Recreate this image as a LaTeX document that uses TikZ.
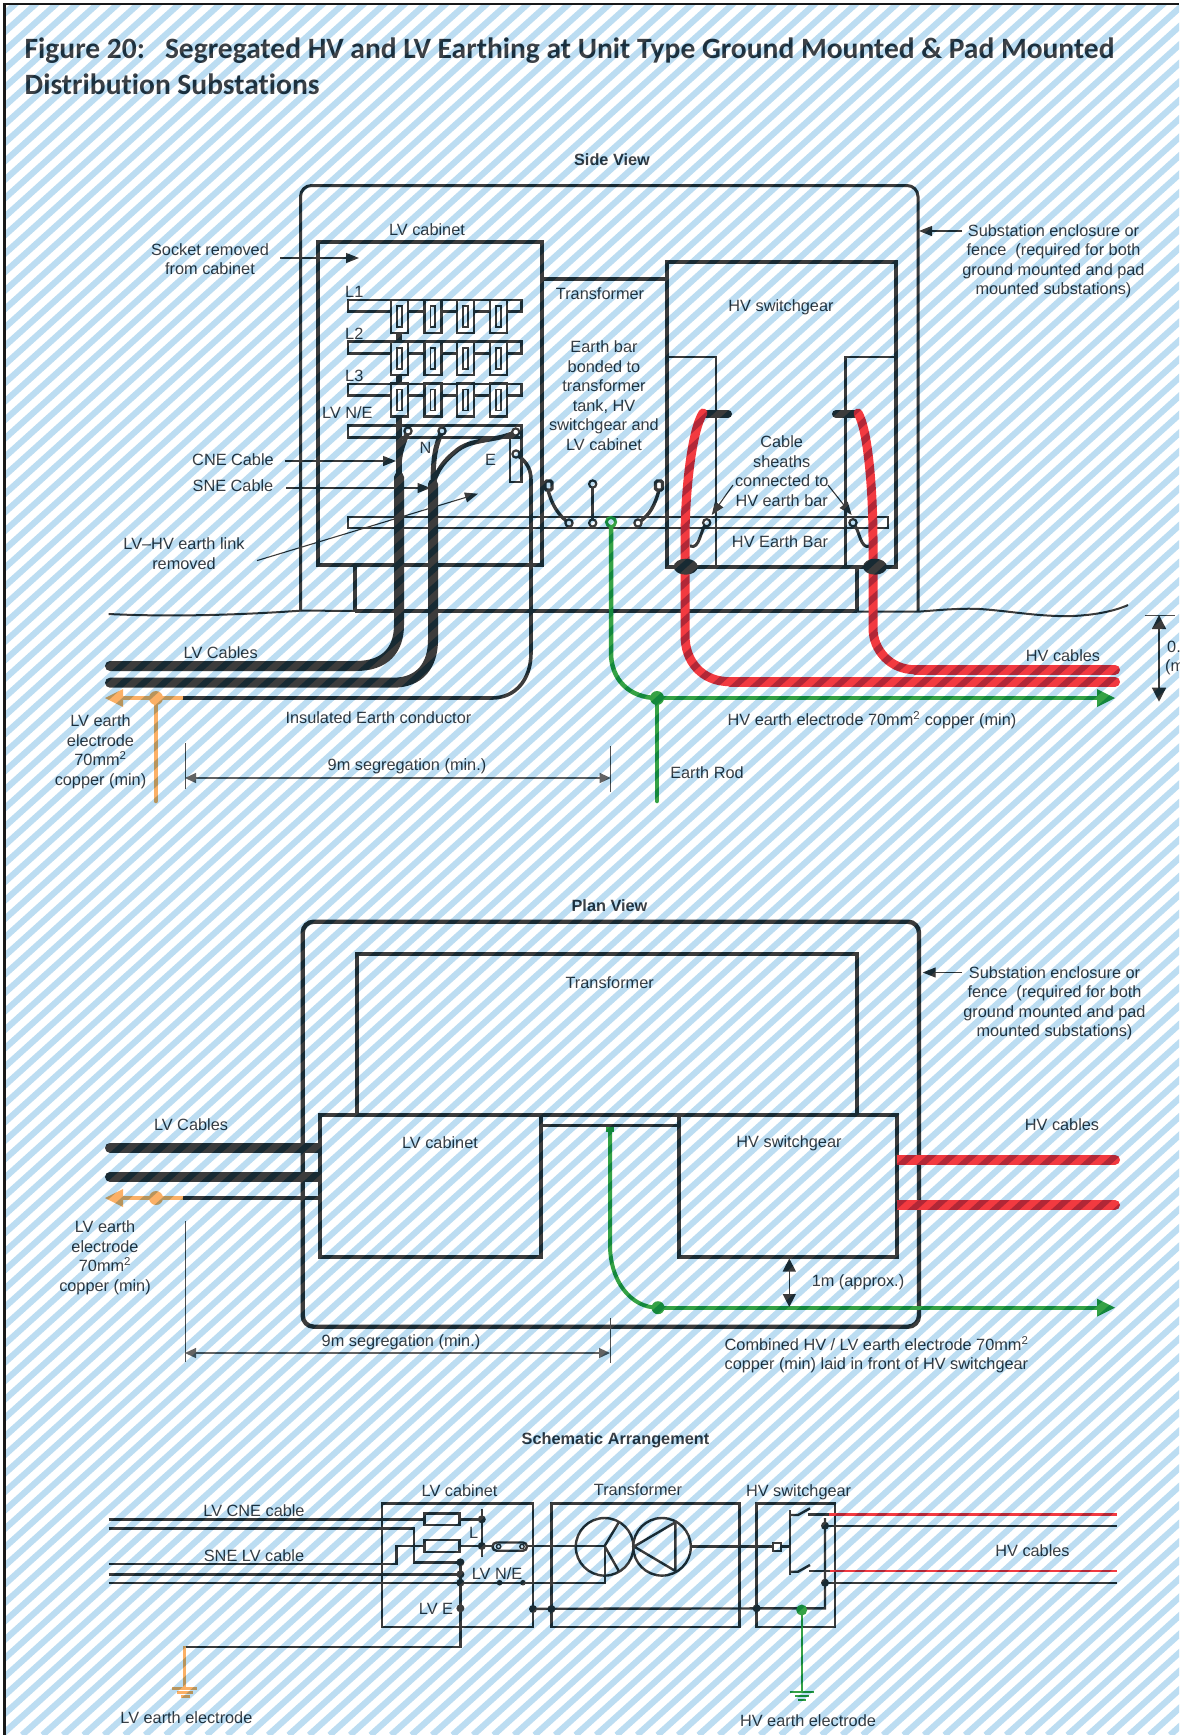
\documentclass[tikz,border=0pt]{standalone}
\usepackage{fontspec}
\setmainfont{Liberation Sans}
\newfontfamily\titlefont[Ligatures={NoCommon}]{Carlito}
\usetikzlibrary{arrows.meta}
\definecolor{ink}{HTML}{3C3C3C}
\definecolor{txt}{HTML}{3E4247}
\definecolor{redc}{HTML}{F23A40}
\definecolor{grn}{HTML}{36A245}
\definecolor{org}{HTML}{FBB066}
\definecolor{stripe}{HTML}{C2DEF2}
\definecolor{burn}{HTML}{E6F2F8}
\tikzset{
 lbl/.style={inner sep=0pt,align=center,text=txt,yshift=-1pt,font=\fontsize{16.3}{19.5}\selectfont},
 headl/.style={lbl,font=\fontsize{16.3}{19.5}\selectfont\bfseries},
 titlel/.style={inner sep=0pt,align=left,anchor=base west,text=txt,font=\fontsize{29.5}{35}\selectfont\titlefont\bfseries},
 wall/.style={draw=ink,line width=4pt},
 thinwall/.style={draw=ink,line width=2.6pt},
 wire/.style={draw=ink,line width=3pt},
 sch/.style={draw=ink,line width=2.4pt},
 cable/.style={draw=ink,line width=10pt,line cap=round},
 rcable/.style={draw=redc,line cap=round},
 leader/.style={draw=ink,line width=1.1pt,-{Triangle[length=13pt,width=10pt]}},
 dimline/.style={draw=ink!80,line width=1.2pt,{Triangle[length=11pt,width=10pt]}-{Triangle[length=11pt,width=10pt]}},
 tick/.style={draw=ink!90,line width=1pt},
 term/.style={draw=ink,fill=white,line width=2.2pt},
 gline/.style={draw=grn,line width=4.5pt},
 oline/.style={draw=org,line width=4.5pt},
}
\begin{document}
\begin{tikzpicture}[x=1pt,y=-1pt]
\useasboundingbox (0,0) rectangle (1179,1735);
\clip (0,0) rectangle (1179,1735);
\fill[white] (0,0) rectangle (1179,1735);

% ===== title
\node[titlel] (title1) at (24.5,58) {Figure 20:\ \ \ Segregated HV and LV Earthing at Unit Type Ground Mounted \& Pad Mounted};
\node[titlel] (title2) at (24.5,94) {Distribution Substations};

% ===== SIDE VIEW
\node[headl] (sideh) at (612,159) {Side View};
% ground
\draw[draw=ink,line width=2pt] (108.6,614) .. controls (170,617) and (240,615) .. (300,610.7) -- (918,611.7)
  .. controls (940,610) and (960,608) .. (980,609) .. controls (1010,611) and (1040,617) .. (1073,616) .. controls (1095,615) and (1115,611) .. (1128,605);
\draw[wall] (355,611) -- (857,611);
% enclosure
\draw[draw=ink,line width=3pt,rounded corners=11pt] (300.5,611) -- (300.5,185.5) -- (918,185.5) -- (918,611);
% cabinets
\draw[wall] (318,241.7) rectangle (542,565);
\draw[wall] (542,279) -- (667,279);
\draw[wall] (667,262) rectangle (896,566.7);
\draw[wall] (355,565) -- (355,611);
\draw[wall] (857,566.7) -- (857,611);
\draw[thinwall] (667,357) -- (716,357) -- (716,566.7);
\draw[thinwall] (896,357) -- (845.7,357) -- (845.7,566.7);
% bars
\draw[thinwall] (348,517) rectangle (888,528);
\foreach \by in {300,341.7,384,425.7}{\draw[thinwall] (348,\by) rectangle (521.7,\by+11.7);}
\draw[thinwall] (510,437) -- (510,482) -- (521.7,482) -- (521.7,430);
% upper thin cables
\draw[draw=ink,line width=6pt] (399,333) -- (399,476);
\draw[draw=ink,line width=5pt] (408,431) .. controls (403,445) and (399,452) .. (399,470);
\draw[draw=ink,line width=5pt] (442,431) .. controls (436,445) and (433,455) .. (433,485);
\draw[draw=ink,line width=4.5pt] (516,432) .. controls (495,442) and (470,438) .. (455,452) .. controls (445,460) and (437,470) .. (434,482);
% fuses
\foreach \fy in {300,341.7,383.5}{
  \foreach \fx in {391,424.5,457,490}{
    \draw[draw=ink,line width=2.2pt,fill=white] (\fx,\fy) rectangle (\fx+17,\fy+33);
    \draw[draw=ink,line width=1.6pt] (\fx+6,\fy+6) rectangle (\fx+10.7,\fy+27);
  }
}
% LV cables
\draw[cable] (110,666) -- (356,666) .. controls (385,666) and (399,650) .. (399,625) -- (399,477);
\draw[cable] (110,682.7) -- (393,682.7) .. controls (420,682.7) and (433,665) .. (433,640) -- (433,484);
% insulated earth
\draw[draw=ink,line width=3.6pt] (516,454) .. controls (524,460) and (531,466) .. (531,480) -- (531,653) .. controls (531,680) and (515,698) .. (492,698) -- (183,698);
% orange electrode
\draw[oline] (183,698) -- (120,698);
\path[fill=org] (105,698) -- (123,689) -- (123,707) -- cycle;
\fill[org] (156,698) circle (7);
\draw[oline,line cap=round] (156,698) -- (156,801);
% bonds
\draw[draw=ink,line width=3.4pt] (548,490) .. controls (552,505) and (558,515) .. (569,523);
\draw[draw=ink,line width=3.4pt] (592.7,488) -- (592.7,523);
\draw[draw=ink,line width=3.4pt] (659,490) .. controls (655,505) and (650,515) .. (638,523);
\draw[draw=ink,line width=3.2pt,fill=white,rounded corners=1.5pt] (545,481) rectangle (552,490);
\draw[draw=ink,line width=3.2pt,fill=white,rounded corners=1.5pt] (655.5,481) rectangle (662.5,490);
\draw[term] (592.7,484) circle (3.6);
% sheath connections
\draw[draw=ink,line width=3pt] (706.7,522.7) .. controls (700,530) and (700,550) .. (690,546);
\draw[draw=ink,line width=3pt] (853,522.7) .. controls (860,530) and (860,550) .. (870,546);
\foreach \tx/\ty in {408/431,442/431,515.7/432,516/454,569/523,592.7/523,638/523,706.7/522.7,853/522.7}{\draw[term] (\tx,\ty) circle (3.6);}
% black stubs
\draw[draw=ink,line width=8pt,line cap=round] (705,414) -- (728,414);
\draw[draw=ink,line width=8pt,line cap=round] (836,414) -- (858,414);
% red cables
\draw[rcable,line width=9pt] (703,413) .. controls (692,430) and (685,490) .. (685,540) -- (685,635) .. controls (685,662) and (702,681.7) .. (730,681.7);
\draw[rcable,line width=10pt] (730,681.7) -- (1115,681.7);
\draw[rcable,line width=9pt] (858,413) .. controls (868,430) and (873,490) .. (873,540) -- (873,628) .. controls (873,650) and (890,669.7) .. (915,669.7);
\draw[rcable,line width=10pt] (915,669.7) -- (1115,669.7);
\fill[ink] (685.7,566.7) ellipse (12 and 8);
\fill[ink] (875,566.7) ellipse (12 and 8);
% green electrode
\draw[gline] (611,527) -- (611,653) .. controls (611,680) and (630,698) .. (657,698);
\draw[gline] (657,698) -- (1100,698);
\path[fill=grn] (1115,698) -- (1097,689) -- (1097,707) -- cycle;
\fill[grn] (657,698) circle (7);
\draw[gline,line cap=round] (657,698) -- (657,801);
\draw[draw=grn,fill=white,line width=3pt] (611,522) circle (4.6);
% leaders
\node[lbl] (socket) at (210,258) {Socket removed\\from cabinet};
\coordinate (socketA) at (280,258); \coordinate (socketB) at (359,258);
\draw[leader] (socketA) -- (socketB);
\node[lbl] (lvcab) at (427,229) {LV cabinet};
\node[lbl,anchor=west] (l1) at (345,291) {L1};
\node[lbl,anchor=west] (l2) at (345,333) {L2};
\node[lbl,anchor=west] (l3) at (345,375) {L3};
\node[lbl,anchor=west] (lvne) at (322,412) {LV N/E};
\node[lbl] (cne) at (233,459) {CNE Cable};
\coordinate (cneA) at (285,461); \coordinate (cneB) at (396,461);
\draw[leader] (cneA) -- (cneB);
\node[lbl] (sne) at (233,485) {SNE Cable};
\coordinate (sneA) at (286,488); \coordinate (sneB) at (430.5,488);
\draw[leader] (sneA) -- (sneB);
\node[lbl] (link) at (184,552.5) {LV--HV earth link\\removed};
\coordinate (linkA) at (257,560.6); \coordinate (linkB) at (478,493.7);
\draw[leader] (linkA) -- (linkB);
\node[lbl] (nlab) at (425.5,446.7) {N};
\node[lbl] (elab) at (490.5,459) {E};
\node[lbl] (trl) at (600,293) {Transformer};
\node[lbl] (ebond) at (604,394.5) {Earth bar\\bonded to\\transformer\\tank, HV\\switchgear and\\LV cabinet};
\node[lbl] (hvsw) at (781,306.7) {HV switchgear};
\node[lbl] (sheaths) at (781.7,470) {Cable\\sheaths\\connected to\\HV earth bar};
\coordinate (shA) at (733,485); \coordinate (shB) at (711.7,515);
\coordinate (shC) at (828,485); \coordinate (shD) at (851.7,515);
\draw[leader] (shA) -- (shB);
\draw[leader] (shC) -- (shD);
\node[lbl] (hvbar) at (780,540.7) {HV Earth Bar};
\node[lbl] (encl) at (1053.5,260.5) {Substation enclosure or\\fence\ \ (required for both\\ground mounted and pad\\mounted substations)};
\coordinate (enclA) at (962,231); \coordinate (enclB) at (919,231);
\draw[leader] (enclA) -- (enclB);
\node[lbl] (lvc) at (220.7,651.7) {LV Cables};
\node[lbl] (ins) at (378.4,716.7) {Insulated Earth conductor};
\node[lbl] (lve) at (100.5,751) {LV earth\\electrode\\70mm\textsuperscript{2}\\copper (min)};
\node[lbl] (hvc) at (1063,655) {HV cables};
\node[lbl] (hve) at (872,719) {HV earth electrode 70mm\textsuperscript{2} copper (min)};
\node[lbl] (rod) at (707,772) {Earth Rod};
\node[lbl] (seg) at (407,765.7) {9m segregation (min.)};
\coordinate (segA) at (185,778); \coordinate (segB) at (610.7,778);
\draw[tick] (185,743) -- (185,789);
\draw[tick] (610.7,746) -- (610.7,792);
\draw[dimline] (segA) -- (segB);
\draw[tick] (1145,615) -- (1175,615);
\coordinate (depA) at (1159,615); \coordinate (depB) at (1159,701.7);
\draw[draw=ink,line width=1.3pt,{Triangle[length=14pt,width=14pt]}-{Triangle[length=14pt,width=14pt]}] (depA) -- (depB);
\node[lbl,anchor=west] (dep1) at (1167,646) {0.};
\node[lbl,anchor=west] (dep2) at (1165,666) {(m};

% ===== PLAN VIEW
\node[headl] (planh) at (609.5,904.7) {Plan View};
\draw[draw=ink,line width=4.4pt,rounded corners=11pt] (302.7,921.7) rectangle (919,1326.7);
\draw[wall] (356.5,1115) -- (356.5,953.8) -- (857.3,953.8) -- (857.3,1115);
\draw[wall] (320,1115) rectangle (541,1256.7);
\draw[wall] (679,1115) rectangle (896.7,1256.7);
\draw[wall] (541,1115) -- (679,1115);
\draw[draw=ink,line width=3pt] (541,1125.7) -- (679,1125.7);
\draw[cable] (110,1147.7) -- (300,1147.7);
\draw[cable] (110,1176.7) -- (300,1176.7);
\draw[draw=ink,line width=10pt] (290,1147.7) -- (320,1147.7);
\draw[draw=ink,line width=10pt] (290,1176.7) -- (320,1176.7);
\draw[draw=ink,line width=3.6pt] (183,1198) -- (320,1198);
\draw[oline] (183,1198) -- (120,1198);
\path[fill=org] (105,1198) -- (123,1189) -- (123,1207) -- cycle;
\fill[org] (156,1198) circle (7);
\draw[rcable,line width=10pt] (915,1159.6) -- (1115,1159.6);
\draw[rcable,line width=10pt] (915,1205) -- (1115,1205);
\draw[draw=redc,line width=10pt] (897,1159.6) -- (920,1159.6) (897,1205) -- (920,1205);
\fill[grn] (606,1127) rectangle (614,1132);
\draw[draw=grn,line width=4pt] (610,1130) -- (610,1245) .. controls (610,1280) and (630,1307.7) .. (658,1307.7);
\draw[draw=grn,line width=4pt] (658,1307.7) -- (1100,1307.7);
\path[fill=grn] (1115,1307.7) -- (1097,1298.7) -- (1097,1316.7) -- cycle;
\fill[grn] (658,1307.7) circle (6.5);
\coordinate (oneA) at (789.3,1258.5); \coordinate (oneB) at (789.3,1307);
\draw[draw=ink,line width=1.3pt,{Triangle[length=13pt,width=13pt]}-{Triangle[length=13pt,width=13pt]}] (oneA) -- (oneB);
\node[lbl] (onem) at (858,1281) {1m (approx.)};
\node[lbl] (trp) at (609.7,982) {Transformer};
\node[lbl] (lvcp) at (440,1142) {LV cabinet};
\node[lbl] (hvsp) at (789,1142) {HV switchgear};
\node[lbl] (lvcap) at (191,1124) {LV Cables};
\node[lbl] (hvcap) at (1062,1124) {HV cables};
\node[lbl] (lvep) at (105,1257) {LV earth\\electrode\\70mm\textsuperscript{2}\\copper (min)};
\node[lbl] (enclp) at (1054.5,1002.5) {Substation enclosure or\\fence\ \ (required for both\\ground mounted and pad\\mounted substations)};
\coordinate (enpA) at (962,972.5); \coordinate (enpB) at (922.7,972.5);
\draw[leader] (enpA) -- (enpB);
\node[lbl] (segp) at (401,1341) {9m segregation (min.)};
\draw[tick] (185,1221) -- (185,1362);
\draw[tick] (610,1318) -- (610,1363);
\coordinate (sgpA) at (185,1353); \coordinate (sgpB) at (610,1353);
\draw[dimline] (sgpA) -- (sgpB);
\node[lbl,align=left,anchor=north west] (comb) at (724.5,1335) {Combined HV / LV earth electrode 70mm\textsuperscript{2}\\copper (min) laid in front of HV switchgear};

% ===== SCHEMATIC
\node[headl] (schh) at (615.5,1439) {Schematic Arrangement};
\draw[draw=ink,line width=2.4pt] (382,1503.3) rectangle (533,1626.7);
\draw[draw=ink,line width=2.4pt] (551.4,1503.3) rectangle (739.3,1626.7);
\draw[draw=ink,line width=2.4pt] (756.6,1503.3) rectangle (835,1626.7);
% LV lines
\draw[sch] (108.6,1519.3) -- (481.8,1519.3);
\draw[sch] (481.8,1509) -- (481.8,1556.7);
\draw[sch] (108.6,1528.3) -- (414,1528.3) -- (414,1562.3) -- (460.4,1562.3);
\draw[sch] (108.6,1564) -- (396.4,1564) -- (396.4,1546) -- (481.8,1546);
\draw[sch] (108.6,1574.3) -- (460.4,1574.3);
\draw[sch] (108.6,1582.7) -- (605,1582.7) -- (605,1546);
\draw[sch] (460.4,1562.3) -- (460.4,1646.7) -- (184.6,1646.7);
\draw[draw=org,line width=2.4pt] (184.6,1646) -- (184.6,1688.3);
\draw[draw=org,line width=2.4pt] (172,1688.3) -- (197,1688.3) (177,1692.5) -- (193,1692.5) (181,1696.5) -- (190,1696.5);
% fuses
\draw[sch,fill=white] (424.6,1513.3) rectangle (459.3,1525);
\draw[sch,fill=white] (424.6,1540) rectangle (459.3,1552);
% link
\draw[sch] (481.8,1546) -- (605,1546);
\draw[sch,fill=white,rounded corners=4pt] (492.5,1542.5) rectangle (527,1550.7);
\draw[draw=ink,line width=1.4pt,fill=white] (498.6,1546.5) circle (2.2) (522,1546.5) circle (2.2);
% dots
\foreach \dx/\dy in {481.8/1519.3,481.8/1546,460.4/1562.3,460.4/1574.3,460.4/1582.7,460.4/1608.3,533/1609,551.4/1609,756.6/1608.3,825/1525.7,825/1582.7}{\fill[ink] (\dx,\dy) circle (4);}
\fill[ink] (499.6,1582.7) circle (2.8);
\fill[ink] (522.9,1582.7) circle (2.8);
\draw[sch] (533,1608.8) -- (825,1608.3) -- (825,1518);
% transformer
\draw[sch] (604.6,1546.8) circle (28.8);
\draw[sch] (662,1546.8) circle (28.8);
\draw[sch] (604.6,1546) -- (618.8,1522.3) (604.6,1546) -- (618.8,1571);
\draw[sch] (634,1546.5) -- (675.4,1522.3) -- (675.4,1571) -- cycle;
\draw[sch] (690.8,1546.3) -- (790.2,1546.3);
\draw[draw=ink,line width=2pt,fill=white] (773,1542.5) rectangle (780.7,1550.7);
% switches
\draw[sch] (790.2,1510) -- (790.2,1575);
\draw[sch] (790.2,1515) -- (798,1515) -- (810,1508.3);
\draw[sch] (790.2,1571.7) -- (798,1571.7) -- (810,1565);
\draw[sch] (807.5,1514.3) -- (828.5,1514.3);
\draw[sch] (809.4,1571) -- (829.5,1571);
\draw[draw=redc,line width=2.8pt] (828.5,1514.3) -- (1116.7,1514.3);
\draw[draw=redc,line width=2.8pt] (829.5,1571) -- (1116.7,1571);
\draw[sch] (825,1525.7) -- (1116.7,1525.7);
\draw[sch] (825,1582.7) -- (1116.7,1582.7);
% HV earth
\draw[draw=grn,line width=2.4pt] (801.7,1610) -- (801.7,1691.7);
\draw[draw=grn,line width=2.4pt] (789.5,1691.7) -- (814.3,1691.7) (795,1696) -- (809,1696) (798,1700) -- (806,1700);
\fill[grn] (801.7,1610) circle (5.5);
% schematic labels
\node[lbl] (lvcs) at (459.6,1489.3) {LV cabinet};
\node[lbl] (trs) at (638,1489) {Transformer};
\node[lbl] (hvss) at (798.6,1491.7) {HV switchgear};
\node[lbl] (cnes) at (254,1509.3) {LV CNE cable};
\node[lbl] (snes) at (254,1554.3) {SNE LV cable};
\node[lbl] (ls) at (473.6,1532.3) {L};
\node[lbl] (lvnes) at (497,1572.7) {LV N/E};
\node[lbl] (lves) at (436,1608) {LV E};
\node[lbl] (hvcs) at (1032.5,1550) {HV cables};
\node[lbl] (hvel) at (808,1720) {HV earth electrode};
\node[lbl] (lvel) at (186.4,1717) {LV earth electrode};

% ===== stripes overlay
\begin{scope}[blend mode=multiply]
\clip (6,5) rectangle (1179,1735);
\foreach \n in {0,...,152}{
  \draw[draw=stripe,line width=6.2pt] ({\n*20.5-0.8},0) -- ({\n*20.5-0.8-1924.6},1735);
}
\end{scope}
\begin{scope}[blend mode=color burn]
\clip (6,5) rectangle (1179,1735);
\foreach \n in {0,...,152}{
  \draw[draw=burn,line width=6.2pt] ({\n*20.5-0.8},0) -- ({\n*20.5-0.8-1924.6},1735);
}
\end{scope}
% frame
\draw[draw=black!90,line width=2.4pt] (4.5,1735) -- (4.5,4) -- (1179,4);
\end{tikzpicture}
\end{document}
